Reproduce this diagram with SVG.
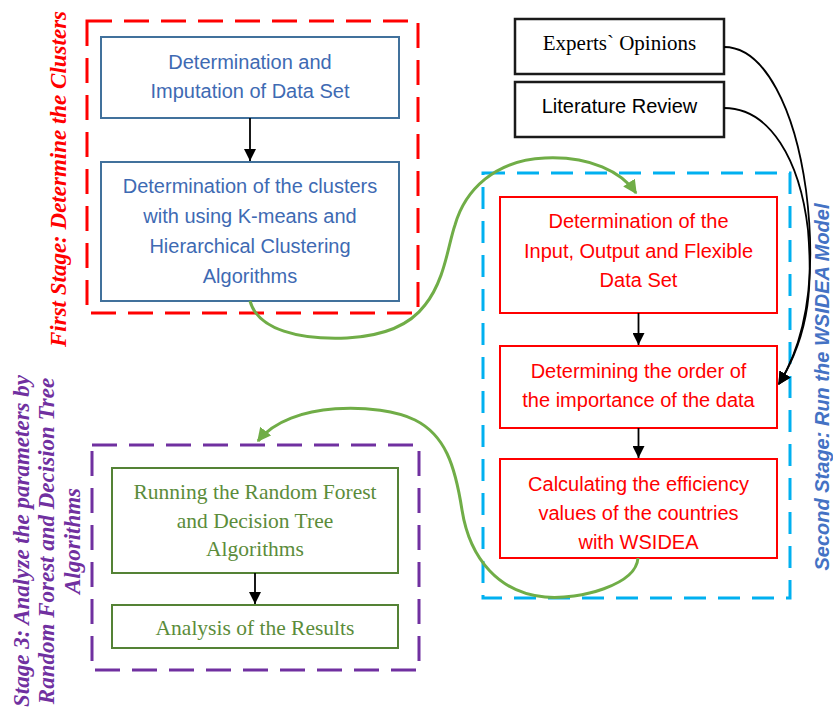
<svg xmlns="http://www.w3.org/2000/svg" width="833" height="712" viewBox="0 0 833 712">
  <style>
    .sans { font-family: "Liberation Sans", Arial, sans-serif; font-size: 20px; text-anchor: middle; }
    .serif { font-family: "Liberation Serif", "Times New Roman", serif; text-anchor: middle; }
    .blueBox { fill: #ffffff; stroke: #41719C; stroke-width: 2; }
    .blueTxt { fill: #3E6AB3; }
    .redBox { fill: #ffffff; stroke: #FF0000; stroke-width: 2; }
    .redTxt { fill: #FF0000; }
    .blackBox { fill: #ffffff; stroke: #1a1a1a; stroke-width: 2.5; }
    .greenBox { fill: #ffffff; stroke: #548235; stroke-width: 2; }
    .greenTxt { fill: #5B8C3A; font-size: 21.5px; }
    .frame { fill: none; stroke-width: 3; }
    .title { font-family: "Liberation Serif", "Times New Roman", serif; font-weight: bold; font-style: italic; font-size: 23px; text-anchor: middle; }
    .flow { fill: none; stroke: #000000; stroke-width: 1.8; }
    .green { fill: none; stroke: #70AD47; stroke-width: 3; }
  </style>
  <defs>
    <marker id="arrowDown" viewBox="0 0 10 10" refX="10" refY="5" markerWidth="12" markerHeight="12" orient="auto" markerUnits="userSpaceOnUse">
      <path d="M0,0 L10,5 L0,10 z" fill="#000000"/>
    </marker>
    <marker id="arrowGreen" viewBox="0 0 10 10" refX="9" refY="5" markerWidth="14" markerHeight="14" orient="auto" markerUnits="userSpaceOnUse">
      <path d="M0,0 L10,5 L0,10 z" fill="#70AD47"/>
    </marker>
    <marker id="arrowCurve" viewBox="0 0 10 10" refX="9" refY="5" markerWidth="13" markerHeight="13" orient="auto" markerUnits="userSpaceOnUse">
      <path d="M0,0 L10,5 L0,10 z" fill="#000000"/>
    </marker>
  </defs>

  <rect width="833" height="712" fill="#ffffff"/>

  <!-- stage frames -->
  <g id="stage1">
    <rect class="frame" x="87" y="21" width="331" height="292" stroke="#FF0000" stroke-dasharray="25 12"/>
    <text class="title" fill="#FF0000" transform="translate(0,179) rotate(-90)" x="0" y="66">First Stage: Determine the Clusters</text>
  </g>
  <g id="stage2">
    <rect class="frame" x="483" y="173" width="307" height="425" stroke="#00B0F0" stroke-dasharray="22 12"/>
    <text font-family="'Liberation Sans', Arial, sans-serif" font-weight="bold" font-style="italic" font-size="20" text-anchor="middle" fill="#4472C4" transform="translate(0,387) rotate(-90)" x="0" y="829">Second Stage: Run the WSIDEA Model</text>
  </g>
  <g id="stage3">
    <rect class="frame" x="92" y="445" width="327" height="225" stroke="#7030A0" stroke-dasharray="25 12"/>
    <g class="title" fill="#7030A0" transform="translate(0,541) rotate(-90)">
      <text x="0" y="29">Stage 3: Analyze the parameters by</text>
      <text x="0" y="54">Random Forest and Decision Tree</text>
      <text x="0" y="80">Algorithms</text>
    </g>
  </g>

  <!-- nodes -->
  <g id="n-imputation">
    <rect class="blueBox" x="101" y="37" width="298" height="81"/>
    <text class="sans blueTxt" x="250" y="69">Determination and</text>
    <text class="sans blueTxt" x="250" y="98">Imputation of Data Set</text>
  </g>
  <g id="n-clusters">
    <rect class="blueBox" x="101" y="162" width="298" height="139"/>
    <text class="sans blueTxt" x="250" y="193">Determination of the clusters</text>
    <text class="sans blueTxt" x="250" y="223">with using K-means and</text>
    <text class="sans blueTxt" x="250" y="253">Hierarchical Clustering</text>
    <text class="sans blueTxt" x="250" y="283">Algorithms</text>
  </g>
  <g id="n-experts">
    <rect class="blackBox" x="515" y="19" width="209" height="55"/>
    <text class="serif" font-size="21" fill="#000000" x="619.5" y="50">Experts` Opinions</text>
  </g>
  <g id="n-literature">
    <rect class="blackBox" x="515" y="82" width="209" height="55"/>
    <text class="sans" fill="#000000" x="619.5" y="113">Literature Review</text>
  </g>
  <g id="n-dataset">
    <rect class="redBox" x="500" y="197" width="277" height="116"/>
    <text class="sans redTxt" x="638.5" y="228">Determination of the</text>
    <text class="sans redTxt" x="638.5" y="258">Input, Output and Flexible</text>
    <text class="sans redTxt" x="638.5" y="287">Data Set</text>
  </g>
  <g id="n-order">
    <rect class="redBox" x="500" y="346" width="277" height="82"/>
    <text class="sans redTxt" x="638.5" y="378">Determining the order of</text>
    <text class="sans redTxt" x="638.5" y="407">the importance of the data</text>
  </g>
  <g id="n-efficiency">
    <rect class="redBox" x="500" y="459" width="277" height="99"/>
    <text class="sans redTxt" x="638.5" y="491">Calculating the efficiency</text>
    <text class="sans redTxt" x="638.5" y="520">values of the countries</text>
    <text class="sans redTxt" x="638.5" y="549">with WSIDEA</text>
  </g>
  <g id="n-forest">
    <rect class="greenBox" x="112" y="468" width="286" height="105"/>
    <text class="serif greenTxt" x="255" y="499">Running the Random Forest</text>
    <text class="serif greenTxt" x="255" y="528">and Decision Tree</text>
    <text class="serif greenTxt" x="255" y="556">Algorithms</text>
  </g>
  <g id="n-results">
    <rect class="greenBox" x="112" y="605" width="286" height="43"/>
    <text class="serif greenTxt" x="255" y="635">Analysis of the Results</text>
  </g>

  <!-- connectors -->
  <g id="connectors">
    <path class="flow" d="M250,118 L250,161" marker-end="url(#arrowDown)"/>
    <path class="flow" d="M638.5,313 L638.5,345" marker-end="url(#arrowDown)"/>
    <path class="flow" d="M638.5,428 L638.5,458" marker-end="url(#arrowDown)"/>
    <path class="flow" d="M255,573 L255,604" marker-end="url(#arrowDown)"/>
    <path class="flow" stroke-width="2" d="M724,47 C765,47 795,110 806,190 C815,260 812,330 779,384" marker-end="url(#arrowCurve)"/>
    <path class="flow" stroke-width="2" d="M724,108 C770,108 800,160 808,230 C812,280 812,330 779,384" marker-end="url(#arrowCurve)"/>
    <path class="green" d="M250,301 C258,330 300,340 347,338 C385,336 410,325 425,305 C445,280 448,245 455,225 C465,190 495,160 545,158 C590,156 622,172 636,193" marker-end="url(#arrowGreen)"/>
    <path class="green" d="M638,558 C636,585 580,600 545,597 C500,593 470,560 462,510 C455,465 445,435 415,420 C380,403 290,400 258,441" marker-end="url(#arrowGreen)"/>
  </g>
</svg>
